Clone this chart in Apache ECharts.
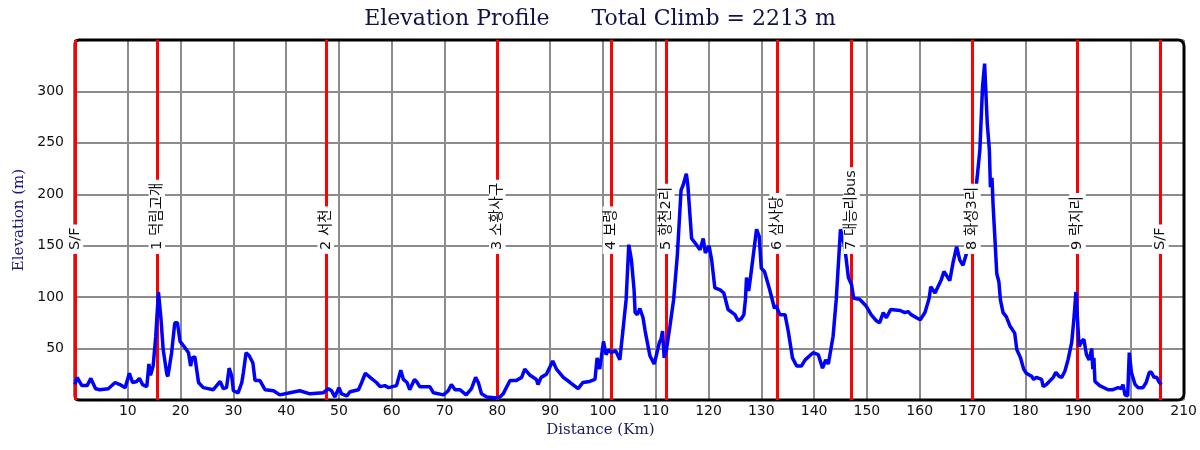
<!DOCTYPE html>
<html>
<head>
<meta charset="utf-8">
<script src="https://cdn.jsdelivr.net/npm/echarts@6/dist/echarts.min.js"></script>
<style>
html,body{margin:0;padding:0;background:#fff;}
#chart{width:1200px;height:450px;}
</style>
</head>
<body>
<div id="chart"></div>
<script>
// ---- data ----
const titleText = 'Elevation Profile      Total Climb = 2213 m';
const xName = 'Distance (Km)';
const yName = 'Elevation (m)';

const distKm = [0,0.4,1.3,2.3,3.0,3.9,4.7,6.3,7.6,8.5,9.5,10.3,10.9,11.7,12.2,12.8,13.6,14.0,14.3,14.8,15.3,15.8,16.3,16.7,17.4,17.6,18.3,18.9,19.4,19.9,20.8,21.5,21.9,22.2,22.7,23.4,24.3,26.2,27.5,28.1,28.7,29.2,29.7,30.0,30.9,31.6,31.9,32.4,33.0,33.7,34.1,35.0,36.0,37.6,38.8,40.7,42.6,44.5,47.0,48.0,48.6,49.2,50.0,50.5,51.5,52.1,53.7,54.3,55.0,55.9,57.1,57.8,58.7,59.4,60.9,61.7,62.2,62.9,63.4,64.3,64.7,65.3,67.2,67.9,69.8,70.7,71.3,72.0,72.9,74.1,75.1,75.9,76.4,77.0,78.0,79.9,80.5,81.1,82.4,83.6,84.6,85.2,86.2,87.4,87.7,88.3,89.3,90.5,91.2,92.5,93.8,95.3,96.2,97.5,98.5,98.9,99.4,100.1,100.6,101.0,101.6,102.4,103.2,103.8,104.4,104.9,105.4,105.9,106.1,106.5,107.0,107.6,108.0,108.9,109.7,110.1,110.7,111.0,111.3,111.6,112.0,112.7,113.4,114.1,114.8,115.2,115.8,116.1,116.8,117.7,118.4,119.0,119.4,120.1,120.6,121.2,122.2,122.9,123.7,125.0,125.6,126.2,126.7,127.0,127.2,127.6,127.9,129.1,129.6,130.0,130.6,131.6,132.5,132.8,133.5,134.5,135.1,135.9,136.7,137.6,138.3,139.8,140.8,141.1,141.6,142.2,142.7,143.0,143.6,144.2,145.0,145.8,146.5,147.1,147.5,148.6,149.0,149.9,150.8,151.8,152.4,153.1,153.7,154.5,156.3,157.2,157.8,158.4,159.4,160.1,161.0,161.8,162.1,162.9,164.1,164.6,165.7,166.3,167.0,167.6,168.2,168.9,169.6,170.3,170.9,171.4,171.9,172.3,172.5,172.8,173.2,173.4,173.7,173.9,174.2,174.6,175.0,175.3,175.8,176.4,177.1,178.0,178.4,179.1,179.7,180.2,181.2,181.6,182.1,183.1,183.4,184.0,185.3,185.8,186.4,186.9,187.5,188.1,188.8,189.2,189.6,189.9,190.2,190.7,191.1,191.6,192.1,192.6,192.8,193.0,193.2,194.1,195.7,196.6,197.6,198.2,198.5,198.9,199.4,199.7,200.1,200.8,201.4,202.3,202.9,203.5,203.9,204.4,204.9,205.4,205.8];
const elevM = [15,22,14,14,21,11,10,11,17,15,12,26,17,18,21,15,13,35,24,33,62,105,78,49,25,23,46,75,75,57,51,46,33,41,42,17,12,10,18,11,12,31,23,9,7,17,27,46,43,36,19,19,10,9,5,7,9,6,7,11,9,3,12,6,4,8,10,17,26,22,17,13,14,12,14,29,20,17,10,20,18,13,13,7,5,9,15,10,10,5,11,22,17,6,3,2,3,6,19,19,22,30,24,20,15,22,25,38,30,22,17,11,17,18,20,41,30,57,44,49,46,48,39,68,98,151,136,107,85,83,89,80,67,43,35,43,56,59,67,41,48,72,98,141,204,209,220,208,157,151,146,157,143,150,136,109,107,104,88,83,77,79,83,98,119,106,117,166,159,128,125,107,89,92,83,83,67,41,33,33,39,46,44,43,31,39,35,44,62,98,166,149,119,112,99,98,96,91,83,77,75,85,80,88,87,85,86,83,80,78,85,99,110,104,117,125,116,133,149,136,131,143,160,190,217,243,304,327,304,269,243,207,216,190,162,123,115,97,85,81,72,65,49,41,30,26,23,20,22,20,13,15,22,27,23,22,28,39,56,78,105,78,52,57,59,44,39,50,30,41,18,14,10,10,12,11,15,5,4,46,27,15,12,12,17,27,27,22,22,17,15];

const cpKm = [0, 15.5, 47.5, 80.0, 101.5, 112.0, 133.1, 147.1, 170.0, 189.9, 205.6];
const cpNames = ['S/F', '1 덕림고개', '2 서천', '3 소황사구', '4 보령', '5 항천2리', '6 삼사당', '7 대능리bus', '8 화성3리', '9 락지리', 'S/F'];
const cpLabelElev = 142;

const xMin = 0, xMax = 210, xStep = 10;
const yMin = 0, yMax = 350, yStep = 50;

// ---- chart ----
const G = {left: 75, top: 40, width: 1109, height: 360};
const chart = echarts.init(document.getElementById('chart'), null, {renderer: 'canvas'});
const sans = "'DejaVu Sans', 'Noto Sans CJK KR', sans-serif";
const serif = "'DejaVu Serif', 'Liberation Serif', serif";

chart.setOption({
  animation: false,
  backgroundColor: '#ffffff',
  title: {
    text: titleText,
    left: 'center', top: 3,
    textStyle: {fontFamily: serif, fontSize: 22, fontWeight: 'normal', color: '#12124a'}
  },
  grid: {left: G.left, top: G.top, width: G.width, height: G.height, containLabel: false},
  xAxis: {
    type: 'value', min: xMin, max: xMax, interval: xStep,
    name: xName, nameLocation: 'middle', nameGap: 23,
    nameTextStyle: {fontFamily: serif, fontSize: 15, color: '#191964', padding: [0, 58, 0, 0]},
    axisLine: {show: false}, axisTick: {show: false},
    axisLabel: {fontFamily: sans, fontSize: 14, color: '#111', margin: 4, showMinLabel: false, showMaxLabel: true},
    splitLine: {show: true, lineStyle: {color: '#8c8c8c', width: 2}}
  },
  yAxis: {
    type: 'value', min: yMin, max: yMax, interval: yStep,
    name: yName, nameLocation: 'middle', nameGap: 46, nameRotate: 90,
    nameTextStyle: {fontFamily: serif, fontSize: 15, color: '#1a1a78'},
    axisLine: {show: false}, axisTick: {show: false},
    axisLabel: {fontFamily: sans, fontSize: 14, color: '#111', margin: 11, showMinLabel: false, showMaxLabel: false},
    splitLine: {show: true, lineStyle: {color: '#8c8c8c', width: 2}}
  },
  graphic: [{
    type: 'rect', z: 1, silent: true,
    shape: {x: G.left, y: G.top, width: G.width, height: G.height, r: [4, 6, 6, 4]},
    style: {fill: 'none', stroke: '#000', lineWidth: 3}
  }],
  series: [
    {
      type: 'line', z: 3,
      data: distKm.map((d, i) => [d, elevM[i]]),
      symbol: 'none', smooth: false,
      lineStyle: {color: '#0000ff', width: 3.5},
      markLine: {
        silent: true, symbol: 'none', z: 2,
        label: {show: false},
        lineStyle: {color: '#ff0000', width: 3, type: 'solid'},
        data: cpKm.map(k => ({xAxis: k}))
      }
    },
    {
      type: 'scatter', z: 6,
      data: cpKm.map(k => [k, cpLabelElev]),
      symbolSize: 1, itemStyle: {color: 'rgba(0,0,0,0)'},
      labelLayout: {hideOverlap: false},
      label: {
        show: true, position: 'inside', rotate: 90, align: 'left', verticalAlign: 'middle',
        fontFamily: sans, fontSize: 14.5, color: '#111', opacity: 1,
        backgroundColor: '#ffffff', padding: [1, 3, 1, 4],
        formatter: p => cpNames[p.dataIndex]
      }
    }
  ]
});
</script>
</body>
</html>
